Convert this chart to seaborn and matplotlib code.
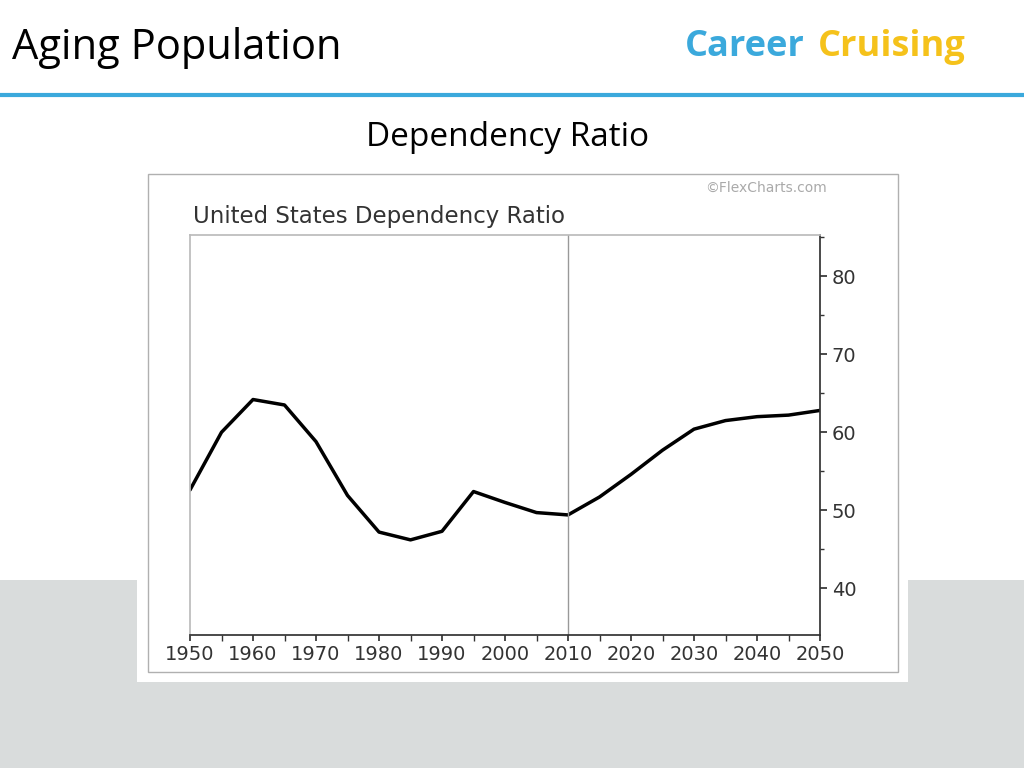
import matplotlib
matplotlib.use("Agg")
import matplotlib.pyplot as plt
import numpy as np
import pandas as pd
import seaborn as sns
from matplotlib.patches import Rectangle

sns.set_theme(style="white")
plt.rcParams["font.family"] = ["Open Sans", "DejaVu Sans"]

years = [1950, 1955, 1960, 1965, 1970, 1975, 1980, 1985, 1990, 1995, 2000,
         2005, 2010, 2015, 2020, 2025, 2030, 2035, 2040, 2045, 2050]
ratio = [52.6, 60.0, 64.2, 63.5, 58.8, 51.9, 47.2, 46.2, 47.3, 52.4, 51.0,
         49.7, 49.4, 51.7, 54.6, 57.7, 60.4, 61.5, 62.0, 62.2, 62.8]
x_ticks = list(range(1950, 2051, 10))
y_ticks = [40, 50, 60, 70, 80]

df = pd.DataFrame({"year": years, "ratio": ratio})

fig = plt.figure(figsize=(10.24, 7.68), dpi=100)
fig.patch.set_facecolor("white")

# faint background band at the bottom of the slide
fig.patches.append(Rectangle((0, 0), 1, 0.245, transform=fig.transFigure,
                             facecolor="#d9dcdc", edgecolor="none", zorder=0))
# chart image frame
fig.patches.append(Rectangle((137 / 1024, 1 - 682 / 768), 771 / 1024, 512 / 768,
                             transform=fig.transFigure, facecolor="white",
                             edgecolor="none", zorder=1))
fig.patches.append(Rectangle((148 / 1024, 1 - 672 / 768), 750 / 1024, 498 / 768,
                             transform=fig.transFigure, facecolor="white",
                             edgecolor="#b0b0b0", lw=1, zorder=1))

fig.text(12 / 1024, 1 - 48 / 768, "Aging Population", fontsize=30, va="center", color="black")
fig.text(685 / 1024, 1 - 47 / 768, "Career", fontsize=26, fontweight="bold",
         color="#3ba9dc", va="center")
fig.text(818 / 1024, 1 - 47 / 768, "Cruising", fontsize=26, fontweight="bold",
         color="#f5c21b", va="center")
fig.add_artist(plt.Line2D([0, 1], [1 - 95 / 768] * 2, color="#3ba9dc", lw=3))
fig.text(508 / 1024, 1 - 137 / 768, "Dependency Ratio", fontsize=24, ha="center",
         va="center", color="black")
fig.text(193 / 1024, 1 - 216 / 768, "United States Dependency Ratio", fontsize=16.5,
         va="center", color="#333333", family=["DejaVu Sans"], zorder=3)
fig.text(827 / 1024, 1 - 188 / 768, "\u00a9FlexCharts.com", fontsize=10, ha="right",
         va="center", color="#aaaaaa", family=["DejaVu Sans"], zorder=3)

ax = fig.add_axes([190 / 1024, 1 - 635 / 768, 630 / 1024, 400 / 768], zorder=2)
sns.lineplot(data=df, x="year", y="ratio", color="black", lw=2.5, ax=ax)
ax.axvline(2010, color="#999999", lw=1)
ax.set_xlim(1950, 2050)
ax.set_ylim(34, 85.3)
ax.set_xticks(x_ticks)
ax.set_yticks(y_ticks)
ax.set_yticks([45, 55, 65, 75, 85], minor=True)
ax.set_xticks(range(1955, 2050, 10), minor=True)
ax.yaxis.tick_right()
ax.tick_params(axis="y", which="both", direction="out", length=5, color="#333333",
               right=True, labelsize=14, labelcolor="#333333")
ax.tick_params(axis="y", which="minor", length=3)
ax.tick_params(axis="x", which="both", direction="out", length=4, color="#333333",
               bottom=True, labelsize=14, labelcolor="#333333")
for label in ax.get_xticklabels() + ax.get_yticklabels():
    label.set_family("DejaVu Sans")
ax.set_xlabel("")
ax.set_ylabel("")
for side in ["left", "top"]:
    ax.spines[side].set_color("#bbbbbb")
for side in ["right", "bottom"]:
    ax.spines[side].set_color("#333333")

fig.savefig("out.png", dpi=100)
